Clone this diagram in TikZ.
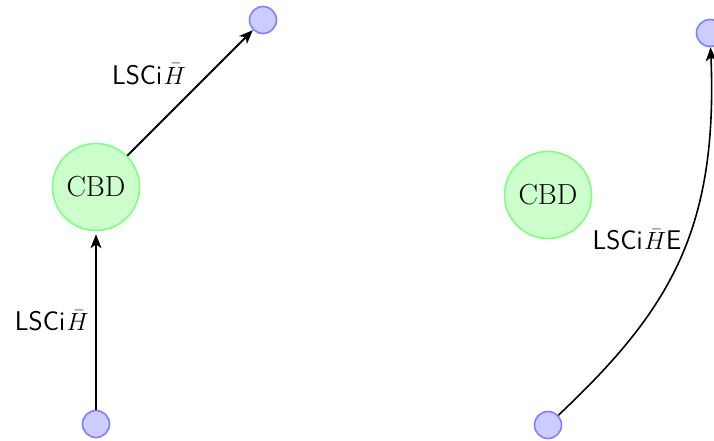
\documentclass[tikz,border=0pt]{standalone}
\usetikzlibrary{arrows.meta}
\newcommand{\lsci}{LSCi\kern1.5pt$\bar{H}$}
\begin{document}
\begin{tikzpicture}[x=1pt,y=-1pt,
  cbd/.style={circle, draw=green!50, fill=green!20, line width=1.6pt,
    minimum size=87pt, inner sep=0pt, font=\fontsize{29}{34}\selectfont},
  port/.style={circle, draw=blue!50, fill=blue!20, line width=1.6pt,
    minimum size=27pt, inner sep=0pt},
  flow/.style={line width=2pt, -{Stealth[length=14pt,width=11pt,inset=4pt]}},
  lbl/.style={font=\fontsize{27}{32}\selectfont\sffamily}]
  \useasboundingbox (0,0) rectangle (714,441);

  % first block: input, CBD, output
  \node[cbd]  (cbdA) at (96,187) {CBD};
  \node[port] (inA)  at (96,424) {};
  \node[port] (outA) at (263,20) {};
  \draw[flow, shorten >=3pt] (inA) -- node[lbl, left, xshift=-3pt] (labA) {\lsci} (cbdA);
  \draw[flow] (cbdA) -- node[lbl, above left, pos=0.5, yshift=4pt] (labB) {\lsci} (outA);

  % second block: input routed straight past the CBD
  \node[cbd]  (cbdB) at (548,195) {CBD};
  \node[port] (inB)  at (548,425) {};
  \node[port] (outB) at (710,33) {};
  \draw[flow, line width=1.6pt] (inB) .. controls (670,310) and (718,230) .. node[lbl, left, pos=0.56, xshift=-2pt] (labC) {\lsci E} (outB);
\end{tikzpicture}
\end{document}
